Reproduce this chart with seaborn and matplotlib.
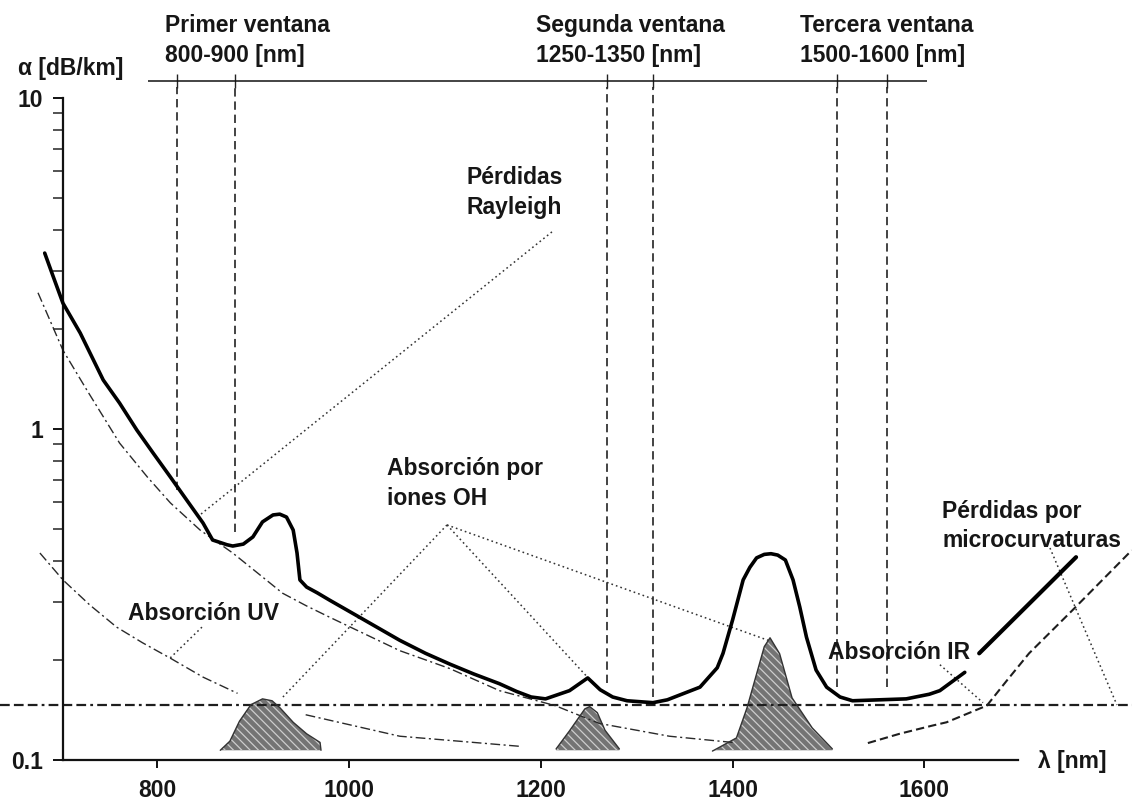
import numpy as np
import pandas as pd
import seaborn as sns
import matplotlib
matplotlib.use('Agg')
import matplotlib.pyplot as plt
from matplotlib.ticker import FixedLocator, FixedFormatter, NullFormatter

# valores: lambda [nm] y alfa [dB/km]
lam_total = [683, 692, 702, 720, 744, 761, 779, 796, 814, 831, 848, 858, 873, 879, 890,
             900, 910, 921, 928, 935, 942, 946, 949, 956, 967, 980, 1015, 1053, 1080,
             1105, 1130, 1157, 1175, 1190, 1205, 1230, 1249, 1262, 1275, 1290, 1317, 1332,
             1366, 1384, 1390, 1400, 1411, 1418, 1425, 1433, 1440, 1447, 1455, 1463, 1470,
             1477, 1487, 1498, 1512, 1525, 1553, 1581, 1605, 1616, 1642]
alfa_total = [3.40, 2.88, 2.40, 1.95, 1.406, 1.198, 0.993, 0.846, 0.716, 0.610, 0.520, 0.462, 0.447, 0.443, 0.449,
              0.472, 0.524, 0.55, 0.553, 0.542, 0.495, 0.422, 0.35, 0.333, 0.32, 0.304, 0.266, 0.23, 0.21,
              0.195, 0.182, 0.17, 0.161, 0.155, 0.153, 0.162, 0.177, 0.163, 0.155, 0.151, 0.149, 0.152,
              0.166, 0.19, 0.21, 0.265, 0.35, 0.382, 0.408, 0.418, 0.42, 0.416, 0.402, 0.35, 0.29,
              0.235, 0.187, 0.166, 0.155, 0.151, 0.152, 0.153, 0.158, 0.162, 0.184]
lam_total_fin = [1657, 1758]
alfa_total_fin = [0.21, 0.41]

lam_rayleigh = [676, 702, 727, 761, 790, 814, 845, 879, 905, 931, 956, 980, 1053, 1105,
                1157, 1215, 1261, 1334, 1400]
alfa_rayleigh = [2.58, 1.73, 1.31, 0.907, 0.716, 0.598, 0.495, 0.422, 0.367, 0.319, 0.292, 0.27, 0.214, 0.189,
                 0.162, 0.146, 0.129, 0.118, 0.113]

lam_uv_a = [678, 702, 730, 758, 785, 814, 848, 884]
alfa_uv_a = [0.422, 0.350, 0.294, 0.252, 0.226, 0.203, 0.178, 0.159]
lam_uv_b = [955, 1053, 1178]
alfa_uv_b = [0.137, 0.118, 0.110]

lam_ir = [1541, 1574, 1608, 1623, 1665, 1686, 1709, 1754, 1816]
alfa_ir = [0.1125, 0.12, 0.127, 0.130, 0.146, 0.174, 0.21, 0.283, 0.43]

alfa_micro = 0.1466   # perdidas por microcurvaturas (constante)

# picos de absorcion OH (borde superior)
lam_oh1 = [866, 876, 886, 898, 910, 920, 928, 942, 956, 970, 971]
alfa_oh1 = [0.107, 0.114, 0.131, 0.147, 0.153, 0.151, 0.144, 0.130, 0.120, 0.113, 0.107]
lam_oh2 = [1216, 1230, 1246, 1251, 1259, 1267, 1282]
alfa_oh2 = [0.108, 0.1225, 0.1427, 0.145, 0.139, 0.123, 0.108]
lam_oh3 = [1379, 1404, 1415, 1425, 1433, 1439, 1449, 1462, 1483, 1504]
alfa_oh3 = [0.1064, 0.1166, 0.1437, 0.182, 0.22, 0.234, 0.2095, 0.154, 0.125, 0.108]
alfa_base_oh = 0.107

# ventanas de transmision
lam_ventanas = [821, 881, 1269, 1317, 1509, 1561]
alfa_fin_ventanas = [0.654, 0.489, 0.171, 0.155, 0.166, 0.166]
ventanas_txt = [("Primer ventana", "800-900 [nm]"),
                ("Segunda ventana", "1250-1350 [nm]"),
                ("Tercera ventana", "1500-1600 [nm]")]

x_ticks = [800, 1000, 1200, 1400, 1600]

W, H = 1132, 802
sns.set_theme(style="white")
plt.rcParams['font.family'] = ['Liberation Sans', 'DejaVu Sans']
plt.rcParams['font.weight'] = 'bold'
plt.rcParams['lines.scale_dashes'] = False
plt.rcParams['hatch.linewidth'] = 0.9

TXT = '#161616'
FS = 16.5

fig = plt.figure(figsize=(W / 100, H / 100), dpi=100)
ax = fig.add_axes([0, 0, 1, 1])
ax.set_yscale('log')
ax.set_xlim(636.4, 1816.3)
ax.set_ylim(10 ** (-373 / 331), 10 ** (429 / 331))

# picos OH sombreados
for lx, ly in [(lam_oh1, alfa_oh1), (lam_oh2, alfa_oh2), (lam_oh3, alfa_oh3)]:
    ax.fill_between(lx, alfa_base_oh, ly, facecolor='#747474', edgecolor='#cdcdcd',
                    hatch='\\\\\\\\', linewidth=0, zorder=2)
    ax.plot(lx, ly, color='#333333', lw=1.0, zorder=3)

# linea de microcurvaturas
ax.axhline(alfa_micro, color='#1e1e1e', lw=1.6,
           linestyle=(0, (7, 3, 7, 3, 7, 3, 2, 3)), zorder=2)

# componentes
dashdot = (0, (7, 2.5, 1.5, 2.5))
for lx, ly in [(lam_rayleigh, alfa_rayleigh), (lam_uv_a, alfa_uv_a), (lam_uv_b, alfa_uv_b)]:
    sns.lineplot(x=lx, y=ly, ax=ax, color='#2a2a2a', lw=1.0,
                 linestyle=dashdot, sort=False, estimator=None)
sns.lineplot(x=lam_ir, y=alfa_ir, ax=ax, color='#1e1e1e', lw=1.5,
             linestyle=(0, (6, 3)), sort=False, estimator=None)

# atenuacion total
sns.lineplot(x=lam_total, y=alfa_total, ax=ax, color='black', lw=2.6,
             sort=False, estimator=None, solid_joinstyle='round', zorder=4)
sns.lineplot(x=lam_total_fin, y=alfa_total_fin, ax=ax, color='black', lw=3.0,
             sort=False, estimator=None, zorder=4)

# ventanas: lineas verticales y eje superior
y_top_line = 11.26
ax.vlines(lam_ventanas, alfa_fin_ventanas, 10.8, colors='#222222', lw=1.2,
          linestyles=[(0, (6, 3.5))], zorder=1)
ax.vlines(lam_ventanas, 10.75, 11.8, colors='#222222', lw=1.0)
ax.hlines(y_top_line, 790.6, 1602.6, colors='#111111', lw=1.1)

# lineas guia de las etiquetas
dotted = (0, (1.2, 2.2))
guias = [((1211.7, 3.94), (844.8, 0.55)),
         ((846.9, 0.252), (813.5, 0.203)),
         ((1102.3, 0.513), (931.3, 0.155)),
         ((1102.3, 0.513), (1253.4, 0.172)),
         ((1102.3, 0.513), (1436.9, 0.23)),
         ((1616.1, 0.194), (1661.0, 0.149)),
         ((1730.8, 0.437), (1800.6, 0.1466))]
for (x0, y0), (x1, y1) in guias:
    ax.plot([x0, x1], [y0, y1], color='#333333', lw=1.1, linestyle=dotted)

# ejes
for s in ['top', 'right']:
    ax.spines[s].set_visible(False)
ax.spines['left'].set_position(('data', 702))
ax.spines['left'].set_bounds(0.1, 10)
ax.spines['bottom'].set_position(('data', 0.1))
ax.spines['bottom'].set_bounds(702, 1697)
for s in ['left', 'bottom']:
    ax.spines[s].set_color('#111111')
    ax.spines[s].set_linewidth(1.6)

ax.xaxis.set_major_locator(FixedLocator(x_ticks))
ax.xaxis.set_major_formatter(FixedFormatter([str(t) for t in x_ticks]))
ax.yaxis.set_major_locator(FixedLocator([0.1, 1, 10]))
ax.yaxis.set_major_formatter(FixedFormatter(['0.1', '1', '10']))
minors = [m * 10.0 ** e for e in (-1, 0) for m in range(2, 10)]
ax.yaxis.set_minor_locator(FixedLocator(minors))
ax.yaxis.set_minor_formatter(NullFormatter())
ax.xaxis.set_minor_locator(FixedLocator([]))
ax.tick_params(axis='x', which='major', direction='out', length=5.8, width=1.4,
               color='#111111', pad=8, labelsize=FS, labelcolor=TXT, bottom=True)
ax.tick_params(axis='y', which='major', direction='out', length=7.2, width=1.4,
               color='#111111', pad=7, labelsize=FS, labelcolor=TXT, left=True)
ax.tick_params(axis='y', which='minor', direction='out', length=7.2, width=1.3,
               color='#444444', left=True)
for lab in ax.get_xticklabels() + ax.get_yticklabels():
    lab.set_fontweight('bold')


def etiqueta(px, py, s, **kw):
    fig.text(px / W, 1 - py / H, s, ha='left', va='baseline', fontsize=FS,
             fontweight='bold', color=TXT, **kw)


etiqueta(18, 75, "α [dB/km]")
for (l1, l2), px in zip(ventanas_txt, [165, 536, 800]):
    etiqueta(px, 32, l1)
    etiqueta(px, 62, l2)
etiqueta(467, 184, "Pérdidas")
etiqueta(467, 214, "Rayleigh")
etiqueta(387, 475, "Absorción por")
etiqueta(387, 505, "iones OH")
etiqueta(128, 620, "Absorción UV")
etiqueta(828, 659, "Absorción IR")
etiqueta(942, 518, "Pérdidas por")
etiqueta(942, 547, "microcurvaturas")
etiqueta(1038, 768, "λ [nm]")

fig.savefig('out.png', dpi=100, facecolor='white')
